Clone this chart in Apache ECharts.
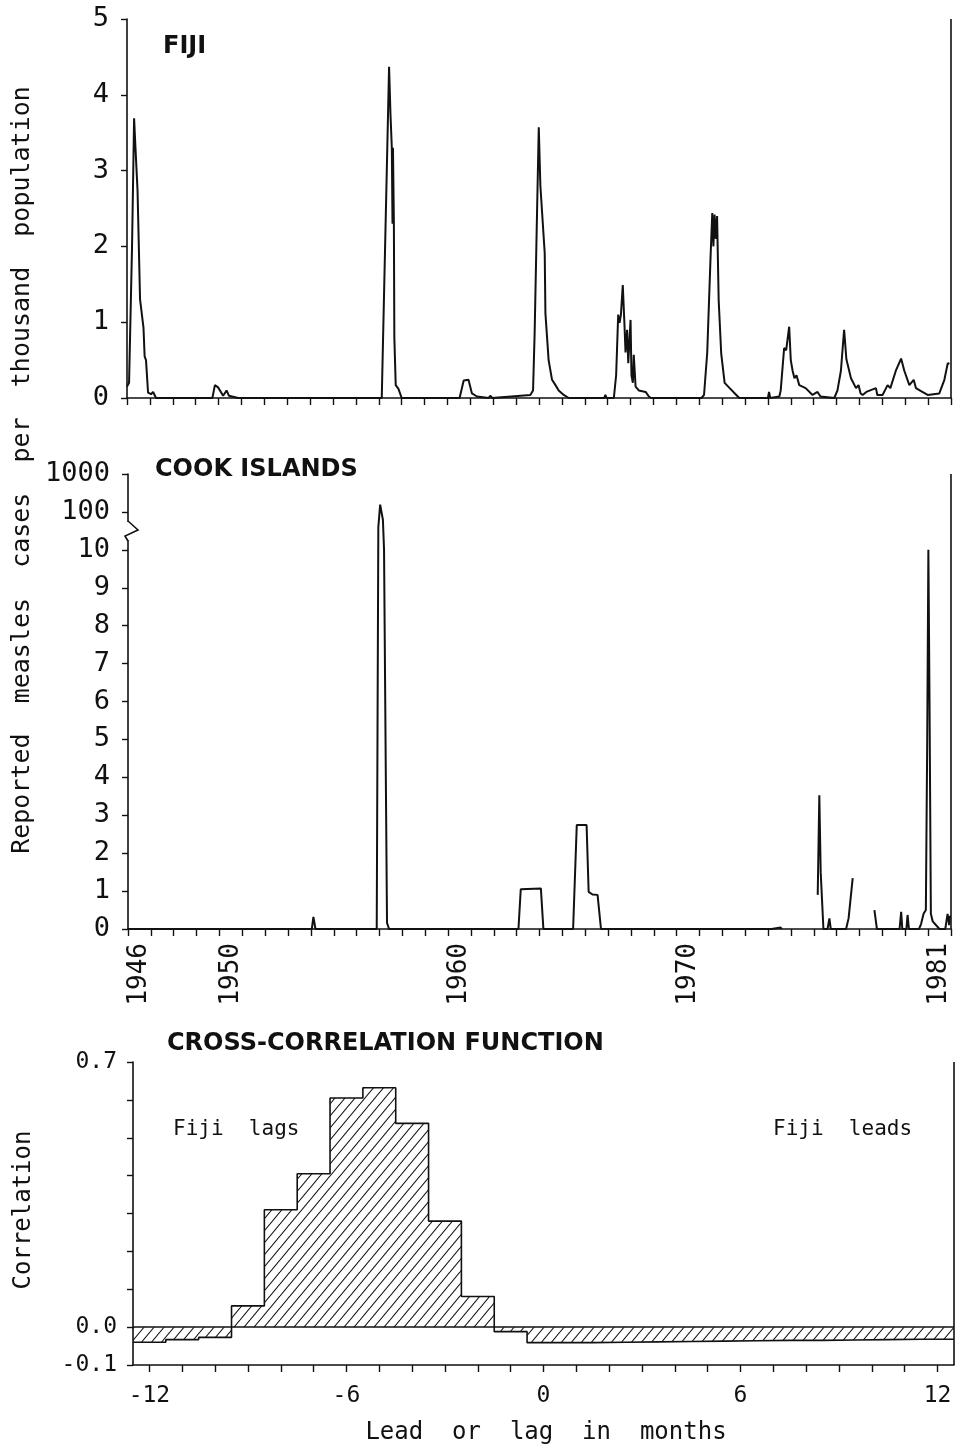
<!DOCTYPE html>
<html><head><meta charset="utf-8">
<script src="https://cdn.jsdelivr.net/npm/echarts@6/dist/echarts.min.js"></script>
<style>html,body{margin:0;padding:0;background:#fff}#c{width:957px;height:1450px}</style>
</head><body><div id="c"></div>
<script>
// ---------- DATA ----------
// Fiji: reported measles cases per thousand population (key vertices of the trace)
const fijiYears = [1946.00,1946.09,1946.22,1946.31,1946.37,1946.46,1946.57,1946.72,1946.77,1946.83,1946.92,1947.05,1947.14,1947.27,
  1949.73,1949.84,1949.98,1950.20,1950.35,1950.45,1950.86,
  1957.13,1957.45,1957.51,1957.57,1957.60,1957.62,1957.66,1957.68,1957.74,1957.86,1958.00,
  1960.53,1960.71,1960.78,1960.92,1961.07,1961.29,1961.80,1961.87,1961.95,
  1963.62,1963.74,1963.81,1963.89,1963.99,1964.06,1964.25,1964.28,1964.42,1964.57,1964.72,1964.86,1965.08,1965.30,
  1966.85,1966.90,1966.95,
  1967.27,1967.37,1967.46,1967.52,1967.58,1967.66,1967.73,1967.78,1967.85,1967.90,1968.00,1968.04,1968.10,1968.14,1968.22,1968.36,1968.66,1968.80,1968.90,
  1971.10,1971.21,1971.35,1971.50,1971.57,1971.62,1971.67,1971.72,1971.78,1971.85,1971.96,1972.11,1972.33,1972.62,1972.75,
  1974.00,1974.05,1974.10,1974.50,1974.56,1974.71,1974.80,1974.93,1975.00,1975.08,1975.16,1975.25,1975.37,1975.65,1975.95,1976.17,1976.30,1976.90,
  1977.04,1977.19,1977.33,1977.43,1977.63,1977.85,1977.96,1978.05,1978.14,1978.30,1978.72,1978.78,1979.01,
  1979.23,1979.35,1979.59,1979.82,1979.96,1980.18,1980.37,1980.47,1980.69,1980.98,1981.49,1981.71,1981.86,1981.93];
const fijiValues = [0.15,0.20,2.00,3.69,3.30,2.74,1.30,0.93,0.55,0.50,0.07,0.05,0.08,0.00,
  0.00,0.17,0.14,0.03,0.10,0.03,0.00,
  0.00,4.37,3.75,3.30,2.30,3.30,2.30,0.80,0.17,0.12,0.00,
  0.00,0.23,0.25,0.24,0.06,0.02,0.00,0.03,0.00,
  0.04,0.10,0.86,2.08,3.57,2.80,1.91,1.12,0.50,0.24,0.17,0.10,0.04,0.00,
  0.00,0.04,0.00,
  0.00,0.30,1.10,0.99,1.10,1.49,1.00,0.60,0.90,0.46,1.03,0.30,0.20,0.57,0.15,0.10,0.08,0.02,0.00,
  0.00,0.04,0.60,1.90,2.44,2.00,2.42,2.10,2.40,1.29,0.59,0.20,0.13,0.04,0.00,
  0.00,0.08,0.00,0.02,0.10,0.66,0.63,0.94,0.50,0.36,0.26,0.30,0.17,0.13,0.04,0.08,0.02,0.00,
  0.10,0.36,0.90,0.51,0.26,0.13,0.17,0.06,0.04,0.08,0.13,0.04,0.04,
  0.17,0.13,0.36,0.52,0.36,0.17,0.24,0.13,0.09,0.04,0.06,0.24,0.46,0.45];

// Cook Islands: reported cases per thousand (null = gap in record)
const cookYears = [1946.00,1954.04,1954.11,1954.20,1956.88,1956.95,1957.03,1957.15,1957.20,1957.28,1957.33,1957.42,
  1958.30,1958.35,1958.40,1959.90,1959.95,1960.00,
  1963.08,1963.18,1964.06,1964.17,1965.47,1965.63,1966.06,1966.15,1966.32,1966.54,1966.69,
  1974.15,1974.20,1974.55,1974.60,1976.00,
  1976.17,1976.24,1976.30,1976.42,1976.60,1976.68,1976.74,1977.41,1977.52,1977.70,1978.20,
  1978.65,1978.76,1979.75,1979.82,1979.87,1980.05,1980.10,1980.16,1980.60,1980.69,1980.80,1980.90,1980.96,1981.01,1981.06,1981.12,1981.20,1981.35,1981.49,1981.75,1981.85,1981.92,1981.96];
const cookValues = [0,0,0.32,0,0,40,155,62,10,3.85,0.16,0,
  0,0.05,0,0,0.05,0,
  0,1.05,1.07,0,0,2.74,2.74,0.98,0.91,0.90,0,
  0,0.04,0.04,0,null,
  0.9,3.53,1.5,0,0,0.28,0,0,0.28,1.34,null,
  0.5,0,0,0.45,0,0,0.37,0,0,0.13,0.4,0.5,5.0,10.0,6.0,0.4,0.2,0.1,0,0,0.4,0.1,0.35];
const cookTickLabels = ['0','1','2','3','4','5','6','7','8','9','10','100','1000'];
const yearTickLabels = ['1946','1950','1960','1970','1981'];

// Cross-correlation function
const lags = [-12,-11,-10,-9,-8,-7,-6,-5,-4,-3,-2,-1,0,1,2,3,4,5,6,7,8,9,10,11,12];
const correlations = [-0.040,-0.033,-0.027,0.056,0.310,0.405,0.605,0.632,0.538,0.280,0.081,-0.012,
  -0.041,-0.041,-0.040,-0.039,-0.038,-0.037,-0.036,-0.035,-0.035,-0.034,-0.033,-0.032,-0.032];
const lagTickLabels = ['-12','-6','0','6','12'];

// ---------- BUILD ----------
const MONO = '"DejaVu Sans Mono", monospace';
const BOLD = '"DejaVu Sans", sans-serif';
const yearTicks = []; for (let y = 1946; y <= 1982; y++) yearTicks.push(y);
const cookPos = v => v == null ? null : (v <= 10 ? v : 10 + Math.log10(v / 10));

const hatch = document.createElement('canvas');
hatch.width = 10; hatch.height = 12;
(function(){ const g = hatch.getContext('2d'); g.strokeStyle = '#111'; g.lineWidth = 1.1;
  for (const dx of [-10,0,10]) { g.beginPath(); g.moveTo(dx,12); g.lineTo(dx+10,0); g.stroke(); } })();

const axisLine = {show:true, onZero:false, lineStyle:{color:'#111', width:1.6}};
const tickStyle = {lineStyle:{color:'#111', width:1.4}};

const chart = echarts.init(document.getElementById('c'), null, {renderer:'canvas'});
const option = {
  animation:false,
  backgroundColor:'#fff',
  grid:[
    {left:127, right:6, top:19, height:379},
    {left:128, right:6, top:474, height:455},
    {left:133, right:3, top:1062, height:303}
  ],
  xAxis:[
    {gridIndex:0, type:'value', min:1946, max:1982, interval:1, axisLine,
     axisTick:Object.assign({show:true, length:7, customValues:yearTicks}, tickStyle),
     axisLabel:{show:false}, splitLine:{show:false}},
    {gridIndex:1, type:'value', min:1946, max:1982, interval:1, axisLine,
     axisTick:Object.assign({show:true, length:7, customValues:yearTicks}, tickStyle),
     axisLabel:{show:true, rotate:90, margin:14, fontSize:26, fontFamily:MONO, color:'#111',
       customValues:yearTickLabels.map(s => Number(s) + 0.5),
       formatter: v => String(Math.floor(v))},
     splitLine:{show:false}},
    {gridIndex:2, type:'value', min:-12.5, max:12.5, axisLine,
     axisTick:Object.assign({show:true, length:7, customValues:lags}, tickStyle),
     axisLabel:{show:true, margin:20, fontSize:23, fontFamily:MONO, color:'#111',
       customValues:lagTickLabels.map(Number), formatter: v => String(v)},
     splitLine:{show:false}}
  ],
  yAxis:[
    {gridIndex:0, type:'value', min:0, max:5, interval:1, axisLine,
     axisTick:Object.assign({show:true, length:6}, tickStyle),
     axisLabel:{margin:18, fontSize:27, fontFamily:MONO, color:'#111'}, splitLine:{show:false}},
    {gridIndex:1, type:'value', min:0, max:12, interval:1, axisLine,
     axisTick:Object.assign({show:true, length:6}, tickStyle),
     axisLabel:{margin:18, fontSize:27, fontFamily:MONO, color:'#111',
       formatter: v => cookTickLabels[Math.round(v)] ?? ''}, splitLine:{show:false}},
    {gridIndex:2, type:'value', min:-0.1, max:0.7, interval:0.1, axisLine,
     axisTick:Object.assign({show:true, length:6}, tickStyle),
     axisLabel:{margin:16, fontSize:23, fontFamily:MONO, color:'#111',
       formatter: v => { const r = Math.round(v*10); return (r === 7 || r === 0 || r === -1) ? (r/10).toFixed(1) : ''; }},
     splitLine:{show:false}}
  ],
  series:[
    {type:'line', xAxisIndex:0, yAxisIndex:0, symbol:'none',
     data: fijiYears.map((y,i) => [y, fijiValues[i]]),
     lineStyle:{color:'#111', width:2}, z:3,
     markLine:{silent:true, symbol:'none', label:{show:false},
       lineStyle:{color:'#111', width:1.6, type:'solid'}, data:[{xAxis:1982}]}},
    {type:'line', xAxisIndex:1, yAxisIndex:1, symbol:'none', connectNulls:false,
     data: cookYears.map((y,i) => [y, cookPos(cookValues[i])]),
     lineStyle:{color:'#111', width:2}, z:3,
     markLine:{silent:true, symbol:'none', label:{show:false},
       lineStyle:{color:'#111', width:1.6, type:'solid'}, data:[{xAxis:1982}]}},
    {type:'line', xAxisIndex:2, yAxisIndex:2, symbol:'none', step:'end',
     data: lags.map((l,i) => [l - 0.5, correlations[i]]).concat([[lags[lags.length-1] + 0.5, correlations[correlations.length-1]]]),
     lineStyle:{color:'#111', width:1.6},
     areaStyle:{color:{image:hatch, repeat:'repeat'}, opacity:1},
     markLine:{silent:true, symbol:'none', label:{show:false},
       lineStyle:{color:'#111', width:1.6, type:'solid'}, data:[{yAxis:0},{xAxis:12.5}]}}
  ]
};
chart.setOption(option);

const bp = chart.convertToPixel({xAxisIndex:1, yAxisIndex:1}, [1946, 10.5]);
const bx = Math.round(bp[0]), by = Math.round(bp[1]);
const txt = (t, x, y, font, extra) => Object.assign({type:'text', x, y, z:50,
  style:Object.assign({text:t, font, fill:'#111', textVerticalAlign:'middle'}, extra||{})});
chart.setOption({graphic:[
  {type:'rect', z:40, shape:{x:bx-4, y:by-9, width:8, height:18}, style:{fill:'#fff'}},
  {type:'polyline', z:41, shape:{points:[[bx,by-10],[bx+10,by-1],[bx-3,by+5],[bx,by+10]]}, style:{stroke:'#111', lineWidth:1.6, fill:null}},
  txt('FIJI', 163, 47, 'bold 24px ' + BOLD),
  txt('COOK ISLANDS', 155, 470, 'bold 24px ' + BOLD),
  txt('CROSS-CORRELATION FUNCTION', 167, 1044, 'bold 24px ' + BOLD),
  txt('Fiji  lags', 173, 1130, '21px ' + MONO),
  txt('Fiji  leads', 773, 1130, '21px ' + MONO),
  txt('Lead  or  lag  in  months', 546, 1433, '24px ' + MONO, {textAlign:'center'}),
  Object.assign(txt('Correlation', 24, 1210, '24px ' + MONO, {textAlign:'center'}), {rotation:Math.PI/2}),
  Object.assign(txt('Reported  measles  cases  per  thousand  population', 22, 470, '25px ' + MONO, {textAlign:'center'}), {rotation:Math.PI/2})
]});
</script>
</body></html>
